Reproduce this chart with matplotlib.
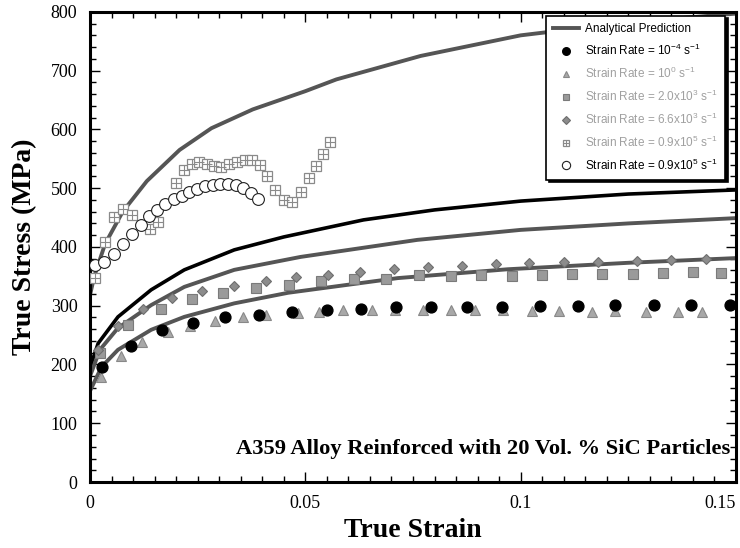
import matplotlib
matplotlib.use('Agg')
import matplotlib.pyplot as plt
from matplotlib.legend_handler import HandlerTuple
from matplotlib.ticker import MultipleLocator

# analytical prediction curves (strain, MPa)
curve1_strain = [0.0, 0.001, 0.0035, 0.0076, 0.0132, 0.0208, 0.0282, 0.0378,
                 0.05, 0.0572, 0.0768, 0.1, 0.125, 0.15]
curve1_stress = [318, 350, 405, 460, 512, 565, 602, 634, 665, 685, 725, 760,
                 782, 797]
curve2_strain = [0.0, 0.0019, 0.0065, 0.0142, 0.0219, 0.0335, 0.045, 0.0635,
                 0.08, 0.1, 0.125, 0.15]
curve2_stress = [195, 236, 281, 327, 361, 395, 417, 446, 463, 478, 490, 497]
curve3_strain = [0.0, 0.0023, 0.0065, 0.0142, 0.0219, 0.0335, 0.0489, 0.076,
                 0.1, 0.125, 0.15]
curve3_stress = [180, 225, 262, 301, 332, 361, 383, 412, 429, 440, 449]
curve4_strain = [0.0, 0.0027, 0.0065, 0.0142, 0.0219, 0.0335, 0.046, 0.0715,
                 0.097, 0.125, 0.15]
curve4_stress = [155, 196, 225, 259, 281, 304, 322, 347, 362, 373, 381]

# strain rate 1e-4
rate1_strain = [0.0028, 0.0095, 0.0167, 0.024, 0.0313, 0.0392, 0.047, 0.055,
                0.063, 0.071, 0.0792, 0.0876, 0.0956, 0.1045, 0.1132, 0.122,
                0.131, 0.1395, 0.1485]
rate1_stress = [195, 232, 258, 271, 280, 285, 289, 292, 295, 297, 297, 298,
                298, 300, 300, 301, 301, 301, 301]
# strain rate 1e0
rate2_strain = [0.0025, 0.0073, 0.0121, 0.0181, 0.0233, 0.0291, 0.0356, 0.0408,
                0.0483, 0.0531, 0.0588, 0.0655, 0.0709, 0.0773, 0.0838, 0.0894,
                0.096, 0.1027, 0.109, 0.1165, 0.122, 0.129, 0.1365, 0.142]
rate2_stress = [179, 214, 239, 256, 266, 274, 280, 285, 287, 290, 292, 292,
                292, 293, 293, 293, 292, 291, 291, 290, 291, 290, 290, 289]
# strain rate 2.0e3
rate3_strain = [0.0023, 0.0088, 0.0164, 0.0236, 0.031, 0.0385, 0.0462, 0.0536,
                0.0613, 0.0687, 0.0765, 0.0838, 0.0909, 0.098, 0.105, 0.112,
                0.119, 0.126, 0.133, 0.14, 0.1465]
rate3_stress = [219, 267, 294, 311, 322, 330, 336, 342, 345, 346, 352, 351,
                352, 351, 352, 354, 354, 354, 356, 357, 356]
# strain rate 6.6e3
rate4_strain = [0.0019, 0.0064, 0.0123, 0.019, 0.0261, 0.0335, 0.0408, 0.0479,
                0.0552, 0.0627, 0.0706, 0.0785, 0.0864, 0.0942, 0.102, 0.11,
                0.118, 0.127, 0.135, 0.143]
rate4_stress = [225, 266, 294, 313, 325, 334, 342, 348, 352, 358, 362, 365,
                368, 371, 373, 374, 374, 376, 378, 379]
# strain rate 0.9e5 (crossed squares)
rate5_strain = [0.0011, 0.0036, 0.0056, 0.0077, 0.0098, 0.0139, 0.0159, 0.02,
                0.0218, 0.0236, 0.0254, 0.0271, 0.0288, 0.0305, 0.0323, 0.0342,
                0.036, 0.0377, 0.0394, 0.041, 0.0429, 0.045, 0.0469, 0.0489,
                0.0508, 0.0524, 0.0542, 0.0558]
rate5_stress = [347, 409, 451, 464, 454, 430, 443, 508, 531, 541, 544, 541,
                537, 536, 541, 545, 548, 548, 540, 520, 497, 479, 477, 494,
                517, 538, 558, 578]
# strain rate 0.9e5 (open circles)
rate6_strain = [0.0012, 0.0033, 0.0056, 0.0077, 0.0098, 0.0118, 0.0137, 0.0156,
                0.0175, 0.0194, 0.0213, 0.0231, 0.0248, 0.0267, 0.0285, 0.0302,
                0.0321, 0.0338, 0.0356, 0.0373, 0.0391]
rate6_stress = [369, 374, 388, 405, 422, 437, 452, 463, 473, 481, 487, 493,
                498, 503, 506, 507, 507, 506, 500, 492, 481]

x_ticks = [0, 0.05, 0.1, 0.15]
x_tick_labels = ['0', '0.05', '0.1', '0.15']

legend_labels = ['Analytical Prediction',
                 r'Strain Rate = 10$^{-4}$ s$^{-1}$',
                 r'Strain Rate = 10$^{0}$ s$^{-1}$',
                 r'Strain Rate = 2.0x10$^{3}$ s$^{-1}$',
                 r'Strain Rate = 6.6x10$^{3}$ s$^{-1}$',
                 r'Strain Rate = 0.9x10$^{5}$ s$^{-1}$',
                 r'Strain Rate = 0.9x10$^{5}$ s$^{-1}$']
label_colors = ['black', 'black', '#a0a0a0', '#a0a0a0', '#a0a0a0',
                '#a0a0a0', 'black']

serif = ['Liberation Serif', 'DejaVu Serif']
sans = ['Liberation Sans', 'DejaVu Sans']
plt.rcParams['mathtext.fontset'] = 'custom'
plt.rcParams['mathtext.rm'] = 'Liberation Sans'

fig = plt.figure(figsize=(7.4, 5.48), dpi=100)
ax = fig.add_axes([0.1216, 0.1204, 0.873, 0.858])

gray_line = '#555555'
ln, = ax.plot(curve1_strain, curve1_stress, color=gray_line, lw=2.8, zorder=2)
ax.plot(curve2_strain, curve2_stress, color='black', lw=2.6, zorder=2)
ax.plot(curve3_strain, curve3_stress, color=gray_line, lw=2.8, zorder=2)
ax.plot(curve4_strain, curve4_stress, color=gray_line, lw=2.8, zorder=2)

h1, = ax.plot(rate1_strain, rate1_stress, 'o', ms=7.8, color='black',
              mec='black', zorder=4)
h2, = ax.plot(rate2_strain, rate2_stress, '^', ms=6.5, color='#a8a8a8',
              mec='#888888', mew=0.8, zorder=3)
h3, = ax.plot(rate3_strain, rate3_stress, 's', ms=6.5, color='#9a9a9a',
              mec='#7a7a7a', mew=0.8, zorder=3)
h4, = ax.plot(rate4_strain, rate4_stress, 'D', ms=5.5, color='#8c8c8c',
              mec='#6e6e6e', mew=0.8, zorder=3)
h5a, = ax.plot(rate5_strain, rate5_stress, 's', ms=7, mfc='white',
               mec='#8a8a8a', mew=0.9, zorder=3)
h5b, = ax.plot(rate5_strain, rate5_stress, '+', ms=7, color='#8a8a8a',
               mew=0.8, zorder=3)
h6, = ax.plot(rate6_strain, rate6_stress, 'o', ms=8.5, mfc='white',
              mec='#222222', mew=0.8, zorder=3)

ax.set_xlim(0, 0.15)
ax.set_ylim(0, 800)
ax.set_xticks(x_ticks)
ax.set_xticklabels(x_tick_labels)
ax.xaxis.set_minor_locator(MultipleLocator(0.005))
ax.yaxis.set_major_locator(MultipleLocator(100))
ax.yaxis.set_minor_locator(MultipleLocator(20))
ax.tick_params(which='both', direction='in', top=True, right=True,
               labelsize=13, width=1.0)
ax.tick_params(which='major', length=7, pad=9)
ax.tick_params(which='minor', length=4)
for lab in ax.get_xticklabels() + ax.get_yticklabels():
    lab.set_family(serif)
ax.get_xticklabels()[-1].set_horizontalalignment('right')
for sp in ax.spines.values():
    sp.set_linewidth(2.2)

ax.set_xlabel('True Strain', family=serif, fontweight='bold', fontsize=20,
              labelpad=5)
ax.set_ylabel('True Stress (MPa)', family=serif, fontweight='bold',
              fontsize=20, labelpad=10)

ax.text(0.608, 0.07, 'A359 Alloy Reinforced with 20 Vol. % SiC Particles',
        transform=ax.transAxes, ha='center', va='center', family=serif,
        fontweight='bold', fontsize=16.2)

leg = ax.legend([ln, h1, h2, h3, h4, (h5a, h5b), h6], legend_labels,
                loc='upper right', bbox_to_anchor=(0.983, 0.992),
                borderaxespad=0, prop={'family': sans, 'size': 8.5},
                frameon=True, fancybox=False, edgecolor='black',
                handlelength=2.2, handletextpad=0.5, labelspacing=0.66,
                borderpad=0.6, markerscale=0.7,
                shadow={'color': 'black', 'alpha': 1},
                handler_map={tuple: HandlerTuple(ndivide=1, pad=0)})
leg.get_frame().set_linewidth(1.2)
leg.set_zorder(10)
for txt, col in zip(leg.get_texts(), label_colors):
    txt.set_color(col)

plt.savefig('out.png', dpi=100)
